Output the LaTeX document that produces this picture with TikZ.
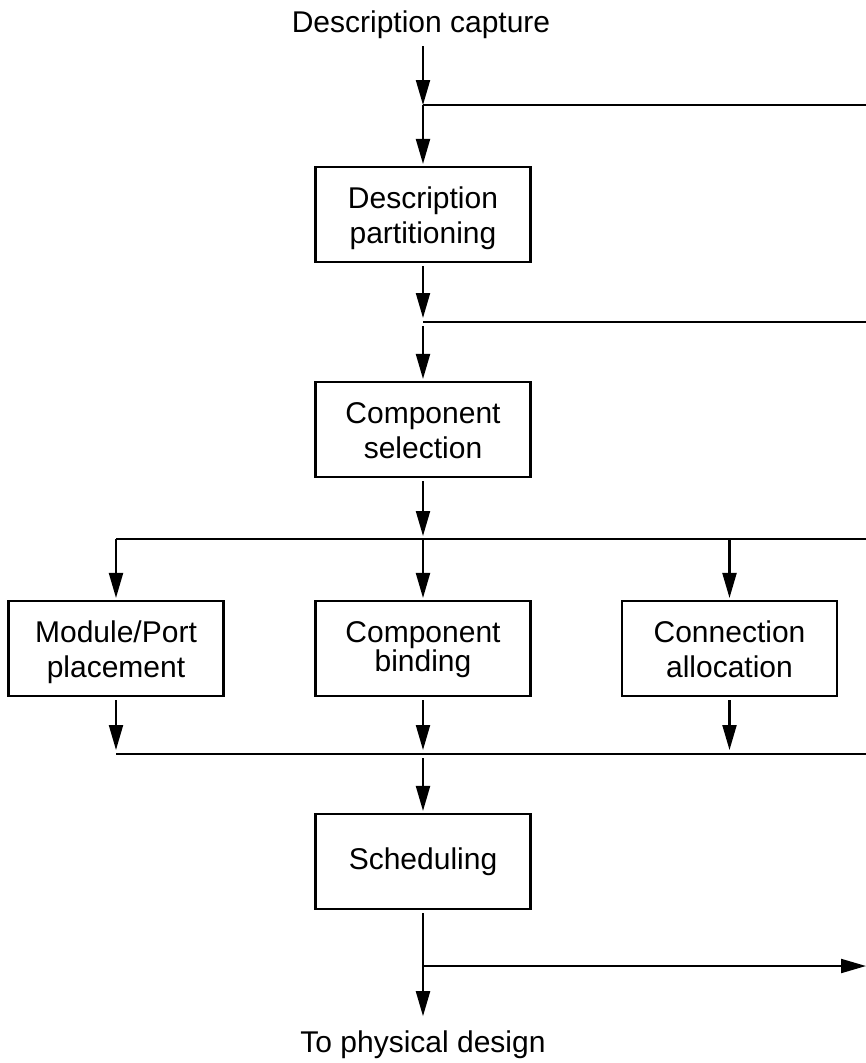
\documentclass[tikz,border=0pt]{standalone}
\usepackage{fontspec}
\setmainfont{Liberation Sans}
\usetikzlibrary{arrows.meta}
\begin{document}
\begin{tikzpicture}[x=1pt,y=-1pt, line width=2.1pt,
  box/.style={draw, line width=2.1pt, minimum width=215pt, minimum height=95pt, inner sep=0pt, align=center, font=\fontsize{30}{35}\selectfont},
  twoline/.style={text height=70pt, text depth=13pt},
  tightline/.style={text height=60pt, text depth=15pt},
  lbl/.style={font=\fontsize{30}{35}\selectfont, inner sep=0pt},
  arr/.style={-{Triangle[length=25pt,width=14pt]}},
]
\useasboundingbox (0,0) rectangle (866,1063);
\node[lbl, anchor=base] (cap) at (421,32) {Description capture};
\node[box, twoline] (part) at (423,214.5) {Description\\partitioning};
\node[box, twoline] (sel) at (423,429.5) {Component\\selection};
\node[box, twoline] (mod) at (116,648.5) {Module/Port\\placement};
\node[box, tightline] (bind) at (423,648.5) {Component\\[-6pt]binding};
\node[box, twoline] (conn) at (729.5,648.5) {Connection\\allocation};
\node[box] (sch) at (423,861.5) {Scheduling};
\node[lbl, anchor=base] (phys) at (423,1052) {To physical design};

\coordinate (j1) at (423,105);
\coordinate (e1) at (866,105);
\coordinate (j2) at (423,322);
\coordinate (e2) at (866,322);
\coordinate (j3) at (423,539);
\coordinate (l3) at (116,539);
\coordinate (r3) at (729.5,539);
\coordinate (e3) at (866,539);
\coordinate (l4) at (116,754);
\coordinate (j4) at (423,754);
\coordinate (r4) at (729.5,754);
\coordinate (e4) at (866,754);
\coordinate (j5) at (423,966);
\coordinate (e5) at (866,966);

\draw[arr, shorten <=7pt] (cap.south -| j1) -- (j1);
\draw (j1) -- (e1);
\draw[arr, shorten >=2pt] (j1) -- (part.north);
\draw[arr, shorten <=3pt, shorten >=4pt] (part.south) -- (j2);
\draw (j2) -- (e2);
\draw[arr, shorten <=4pt, shorten >=2pt] (j2) -- (sel.north);
\draw[arr, shorten <=3pt, shorten >=3pt] (sel.south) -- (j3);
\draw (l3) -- (e3);
\draw[arr, shorten >=2pt] (l3) -- (mod.north);
\draw[arr, shorten >=2pt] (j3) -- (bind.north);
\draw[arr, shorten >=2pt] (r3) -- (conn.north);
\draw[arr, shorten <=3pt, shorten >=4pt] (mod.south) -- (l4);
\draw[arr, shorten <=3pt, shorten >=4pt] (bind.south) -- (j4);
\draw[arr, shorten <=3pt, shorten >=4pt] (conn.south) -- (r4);
\draw (l4) -- (e4);
\draw[arr, shorten <=4pt, shorten >=2pt] (j4) -- (sch.north);
\draw[arr, shorten <=3pt, shorten >=13pt] (sch.south) -- (phys.north);
\draw[arr] (j5) -- (e5);
\end{tikzpicture}
\end{document}
